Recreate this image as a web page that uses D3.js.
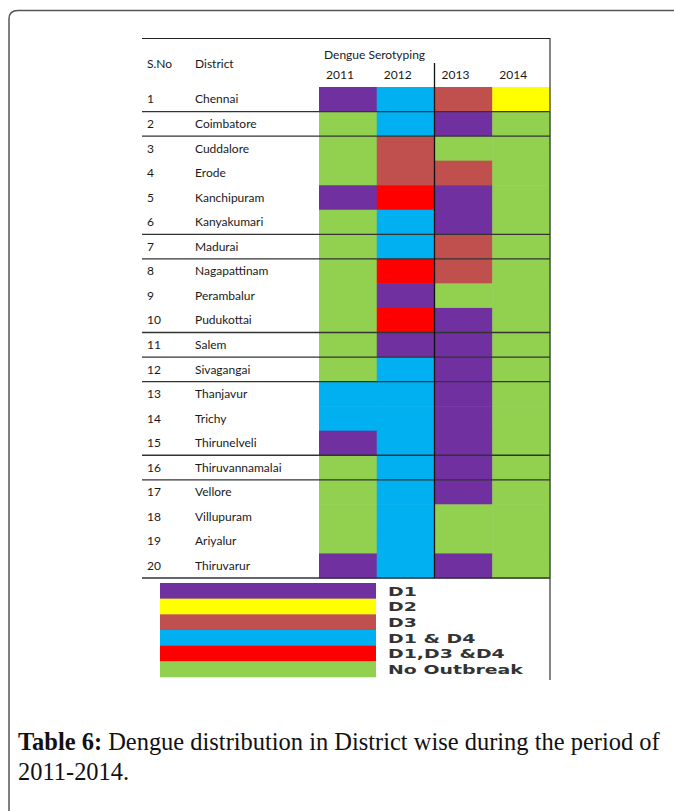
<!DOCTYPE html>
<html><head><meta charset="utf-8">
<script src="https://cdn.jsdelivr.net/npm/d3@7"></script>
<style>body{margin:0;background:#fff}svg{display:block}</style>
</head><body>
<script>
const districts = ["Chennai","Coimbatore","Cuddalore","Erode","Kanchipuram","Kanyakumari","Madurai","Nagapattinam","Perambalur","Pudukottai","Salem","Sivagangai","Thanjavur","Trichy","Thirunelveli","Thiruvannamalai","Vellore","Villupuram","Ariyalur","Thiruvarur"];
const years = ["2011","2012","2013","2014"];
const categories = ["D1","D2","D3","D1 & D4","D1,D3 &D4","No Outbreak"];
// serotype per district per year (2011, 2012, 2013, 2014)
const s2011 = ["D1","No Outbreak","No Outbreak","No Outbreak","D1","No Outbreak","No Outbreak","No Outbreak","No Outbreak","No Outbreak","No Outbreak","No Outbreak","D1 & D4","D1 & D4","D1","No Outbreak","No Outbreak","No Outbreak","No Outbreak","D1"];
const s2012 = ["D1 & D4","D1 & D4","D3","D3","D1,D3 &D4","D1 & D4","D1 & D4","D1,D3 &D4","D1","D1,D3 &D4","D1","D1 & D4","D1 & D4","D1 & D4","D1 & D4","D1 & D4","D1 & D4","D1 & D4","D1 & D4","D1 & D4"];
const s2013 = ["D3","D1","No Outbreak","D3","D1","D1","D3","D3","No Outbreak","D1","D1","D1","D1","D1","D1","D1","D1","No Outbreak","No Outbreak","D1"];
const s2014 = ["D2","No Outbreak","No Outbreak","No Outbreak","No Outbreak","No Outbreak","No Outbreak","No Outbreak","No Outbreak","No Outbreak","No Outbreak","No Outbreak","No Outbreak","No Outbreak","No Outbreak","No Outbreak","No Outbreak","No Outbreak","No Outbreak","No Outbreak"];
const separatorAfter = [1,2,6,7,10,11,12,15,16,20];
const captionBold = "Table 6:";
const captionLine1 = " Dengue distribution in District wise during the period of";
const captionLine2 = "2011-2014.";

const seriesByYear = {"2011":s2011,"2012":s2012,"2013":s2013,"2014":s2014};
const colors = ["#7030A0","#FFFF00","#C0504D","#00B0F0","#FF0000","#92D050"];

const W=674,H=811;
const svg=d3.select("body").append("svg").attr("width",W).attr("height",H);

// outer frame
svg.append("path").attr("d",`M9,${H+5} L9,19 Q9,10.5 18,10.5 L${W+5},10.5`)
  .attr("fill","none").attr("stroke","#555").attr("stroke-width",1.5);

const color=d3.scaleOrdinal().domain(categories).range(colors);
const y=d3.scaleBand().domain(districts.map((d,i)=>i+1)).range([87,578]).padding(0);
const x=d3.scaleBand().domain(years).range([319,550]).padding(0);

const cells=[];
districts.forEach((d,i)=>years.forEach(yr=>cells.push({row:i+1,year:yr,cat:seriesByYear[yr][i]})));
svg.append("g").selectAll("rect").data(cells).join("rect")
  .attr("x",d=>x(d.year)).attr("y",d=>y(d.row))
  .attr("width",x.bandwidth()+0.5).attr("height",y.bandwidth()+0.5)
  .attr("fill",d=>color(d.cat));

const tf="Lato, 'Open Sans', sans-serif";
const rowsG=svg.append("g").attr("font-family",tf).attr("font-size",12).attr("fill","#1a1a1a");
rowsG.selectAll("text.sno").data(districts).join("text")
  .attr("x",147).attr("y",(d,i)=>y(i+1)+y.bandwidth()/2).attr("dy","0.35em").text((d,i)=>i+1);
rowsG.selectAll("text.dist").data(districts).join("text")
  .attr("x",195).attr("y",(d,i)=>y(i+1)+y.bandwidth()/2).attr("dy","0.35em").text(d=>d);

// header
const hg=svg.append("g").attr("font-family",tf).attr("font-size",12).attr("fill","#1a1a1a");
hg.append("text").attr("x",147).attr("y",68).text("S.No");
hg.append("text").attr("x",195).attr("y",68).text("District");
hg.append("text").attr("x",324).attr("y",59).text("Dengue Serotyping");
hg.selectAll("text.yr").data(years).join("text").attr("x",d=>x(d)+7).attr("y",79).text(d=>d);

// lines
svg.append("line").attr("x1",142).attr("x2",550).attr("y1",38.5).attr("y2",38.5).attr("stroke","#222").attr("stroke-width",1.2);
svg.append("g").selectAll("line").data(separatorAfter).join("line")
  .attr("x1",142).attr("x2",550).attr("y1",d=>y(d)+y.bandwidth()).attr("y2",d=>y(d)+y.bandwidth())
  .attr("stroke","#333").attr("stroke-width",1.3);
svg.append("line").attr("x1",x("2013")).attr("x2",x("2013")).attr("y1",63).attr("y2",578).attr("stroke","#111").attr("stroke-width",1.3);
svg.append("line").attr("x1",550).attr("x2",550).attr("y1",38).attr("y2",680).attr("stroke","#333").attr("stroke-width",1.2);

// legend
const ly=d3.scaleBand().domain(categories).range([583,677]).padding(0);
const lg=svg.append("g");
lg.selectAll("rect").data(categories).join("rect")
  .attr("x",160).attr("width",216).attr("y",d=>ly(d)).attr("height",ly.bandwidth()+0.3).attr("fill",d=>color(d));
const lt=lg.selectAll("text").data(categories).join("text")
  .attr("x",0).attr("y",0).attr("dy","0.36em")
  .attr("font-family","'DejaVu Sans', Verdana, sans-serif").attr("font-weight","bold").attr("font-size",13)
  .attr("fill","#333").text(d=>d);
// horizontally stretch labels like the reference (widest label ~135px)
const maxLen=d3.max(lt.nodes(),n=>n.getComputedTextLength());
const sx=135/maxLen;
lt.attr("transform",d=>`translate(388,${ly(d)+ly.bandwidth()/2}) scale(${sx},1)`);

// caption
const cf="'Liberation Serif', 'DejaVu Serif', serif";
const c1=svg.append("text").attr("x",18).attr("y",750).attr("font-family",cf).attr("font-size",20).attr("fill","#111");
c1.append("tspan").attr("font-weight","bold").text(captionBold);
c1.append("tspan").text(captionLine1);
const len=c1.node().getComputedTextLength();
const fs=20*642/len;
c1.attr("font-size",fs);
svg.append("text").attr("x",18).attr("y",780).attr("font-family",cf).attr("font-size",fs).attr("fill","#111").text(captionLine2);
</script>
</body></html>
